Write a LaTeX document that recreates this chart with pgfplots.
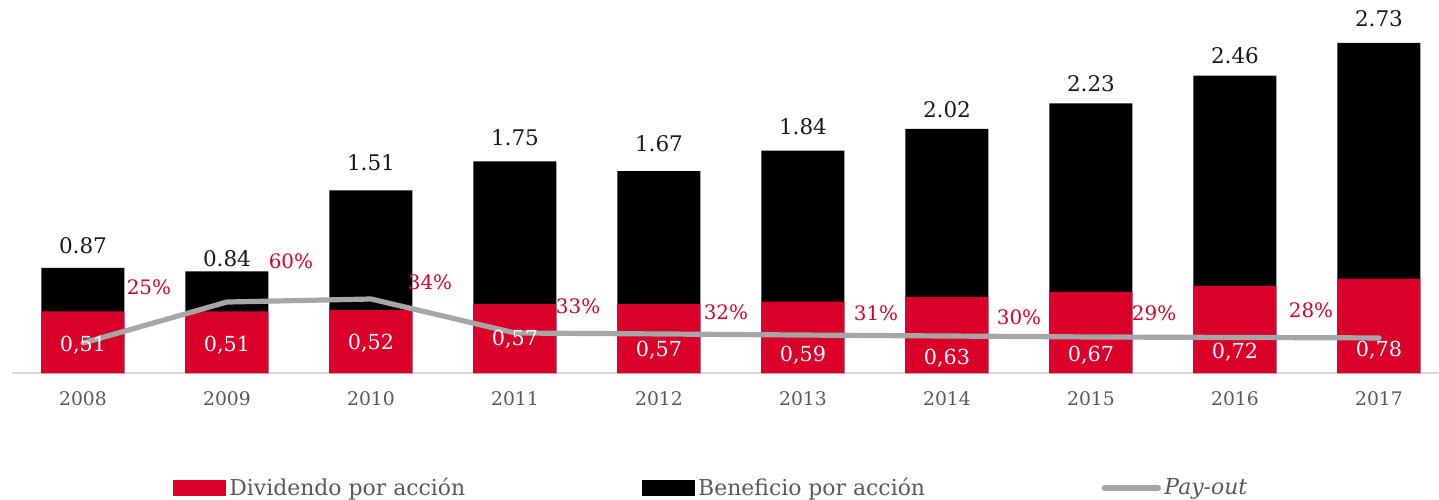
\documentclass[border=0pt]{standalone}
\usepackage{pgfplots}
\pgfplotsset{compat=1.18}
\usepackage{fontspec}
\setmainfont{DejaVu Serif}
\definecolor{bbvared}{RGB}{218,0,42}
\definecolor{payout}{RGB}{166,166,166}
\definecolor{ticktext}{RGB}{89,89,89}
\definecolor{baseline}{RGB}{217,217,217}
\begin{document}
\begin{tikzpicture}
\begin{axis}[
  scale only axis, width=713.5bp, height=186.5bp,
  xmin=-0.493, xmax=9.417, ymin=0, ymax=3.085,
  axis x line=bottom, axis y line=none,
  axis line style={-, draw=baseline, line width=1.2bp},
  xtick={0,1,2,3,4,5,6,7,8,9},
  xticklabels={2008,2009,2010,2011,2012,2013,2014,2015,2016,2017},
  major tick length=0pt,
  xticklabel style={font=\fontsize{9.4}{10}\selectfont, text=ticktext, yshift=-5.8bp},
  clip=false,
  legend columns=3,
  legend style={draw=none, fill=none, at={(rel axis cs:0.1128,-0.3083)}, anchor=west,
    inner sep=0pt, outer sep=0pt, font=\fontsize{11}{13}\selectfont, text=ticktext,
    nodes={inner sep=1.8bp},
    /tikz/every even column/.append style={column sep=86.5bp}},
]
% Beneficio por accion (total height)
\addplot[ybar, bar width=41.5bp, bar shift=0pt, fill=black, draw=none, forget plot]
  coordinates {(0,0.87) (1,0.84) (2,1.51) (3,1.75) (4,1.67) (5,1.84) (6,2.02) (7,2.23) (8,2.46) (9,2.73)};
% Dividendo por accion
\addplot[ybar, bar width=41.5bp, bar shift=0pt, fill=bbvared, draw=none, forget plot]
  coordinates {(0,0.51) (1,0.51) (2,0.52) (3,0.57) (4,0.57) (5,0.59) (6,0.63) (7,0.67) (8,0.72) (9,0.78)};
% Pay-out line
\addplot[sharp plot, draw=payout, line width=2.6bp, line cap=round, line join=round, mark=none, forget plot]
  coordinates {(0,0.248) (1,0.587) (2,0.612) (3,0.331) (4,0.323) (5,0.314) (6,0.306) (7,0.298) (8,0.294) (9,0.290)};

\addlegendimage{legend image code/.code={\fill[bbvared] (0bp,-3.75bp) rectangle (26bp,3.75bp);}}
\addlegendentry{Dividendo por acción}
\addlegendimage{legend image code/.code={\fill[black] (0bp,-3.75bp) rectangle (26bp,3.75bp);}}
\addlegendentry{Beneficio por acción}
\addlegendimage{legend image code/.code={\draw[payout, line width=2.6bp, line cap=round] (1bp,0bp) -- (28bp,0bp);}}
\addlegendentry{\textit{Pay-out}}

% labels above bars
\begin{scope}[every node/.style={font=\fontsize{10.8}{12}\selectfont, text=black!90, anchor=center}]
\node at (axis cs:0,1.050) {0.87};
\node at (axis cs:1,0.943) {0.84};
\node at (axis cs:2,1.737) {1.51};
\node at (axis cs:3,1.944) {1.75};
\node at (axis cs:4,1.894) {1.67};
\node at (axis cs:5,2.035) {1.84};
\node at (axis cs:6,2.175) {2.02};
\node at (axis cs:7,2.390) {2.23};
\node at (axis cs:8,2.622) {2.46};
\node at (axis cs:9,2.928) {2.73};
\end{scope}
% labels inside red bars
\begin{scope}[every node/.style={font=\fontsize{10.4}{12}\selectfont, text=white, anchor=center}]
\node at (axis cs:0,0.232) {0,51};
\node at (axis cs:1,0.232) {0,51};
\node at (axis cs:2,0.248) {0,52};
\node at (axis cs:3,0.281) {0,57};
\node at (axis cs:4,0.190) {0,57};
\node at (axis cs:5,0.149) {0,59};
\node at (axis cs:6,0.124) {0,63};
\node at (axis cs:7,0.149) {0,67};
\node at (axis cs:8,0.174) {0,72};
\node at (axis cs:9,0.190) {0,78};
\end{scope}
% pay-out labels
\begin{scope}[every node/.style={font=\fontsize{10}{12}\selectfont, text=bbvared, anchor=center}]
\node at (axis cs:0.458,0.711) {25\%};
\node at (axis cs:1.444,0.926) {60\%};
\node at (axis cs:2.410,0.753) {34\%};
\node at (axis cs:3.438,0.554) {33\%};
\node at (axis cs:4.465,0.505) {32\%};
\node at (axis cs:5.507,0.496) {31\%};
\node at (axis cs:6.500,0.463) {30\%};
\node at (axis cs:7.438,0.496) {29\%};
\node at (axis cs:8.528,0.521) {28\%};
\end{scope}
\end{axis}
\pgfresetboundingbox
\path (-6bp,-63.5bp) rectangle (713.5bp,186.5bp);
\end{tikzpicture}
\end{document}
